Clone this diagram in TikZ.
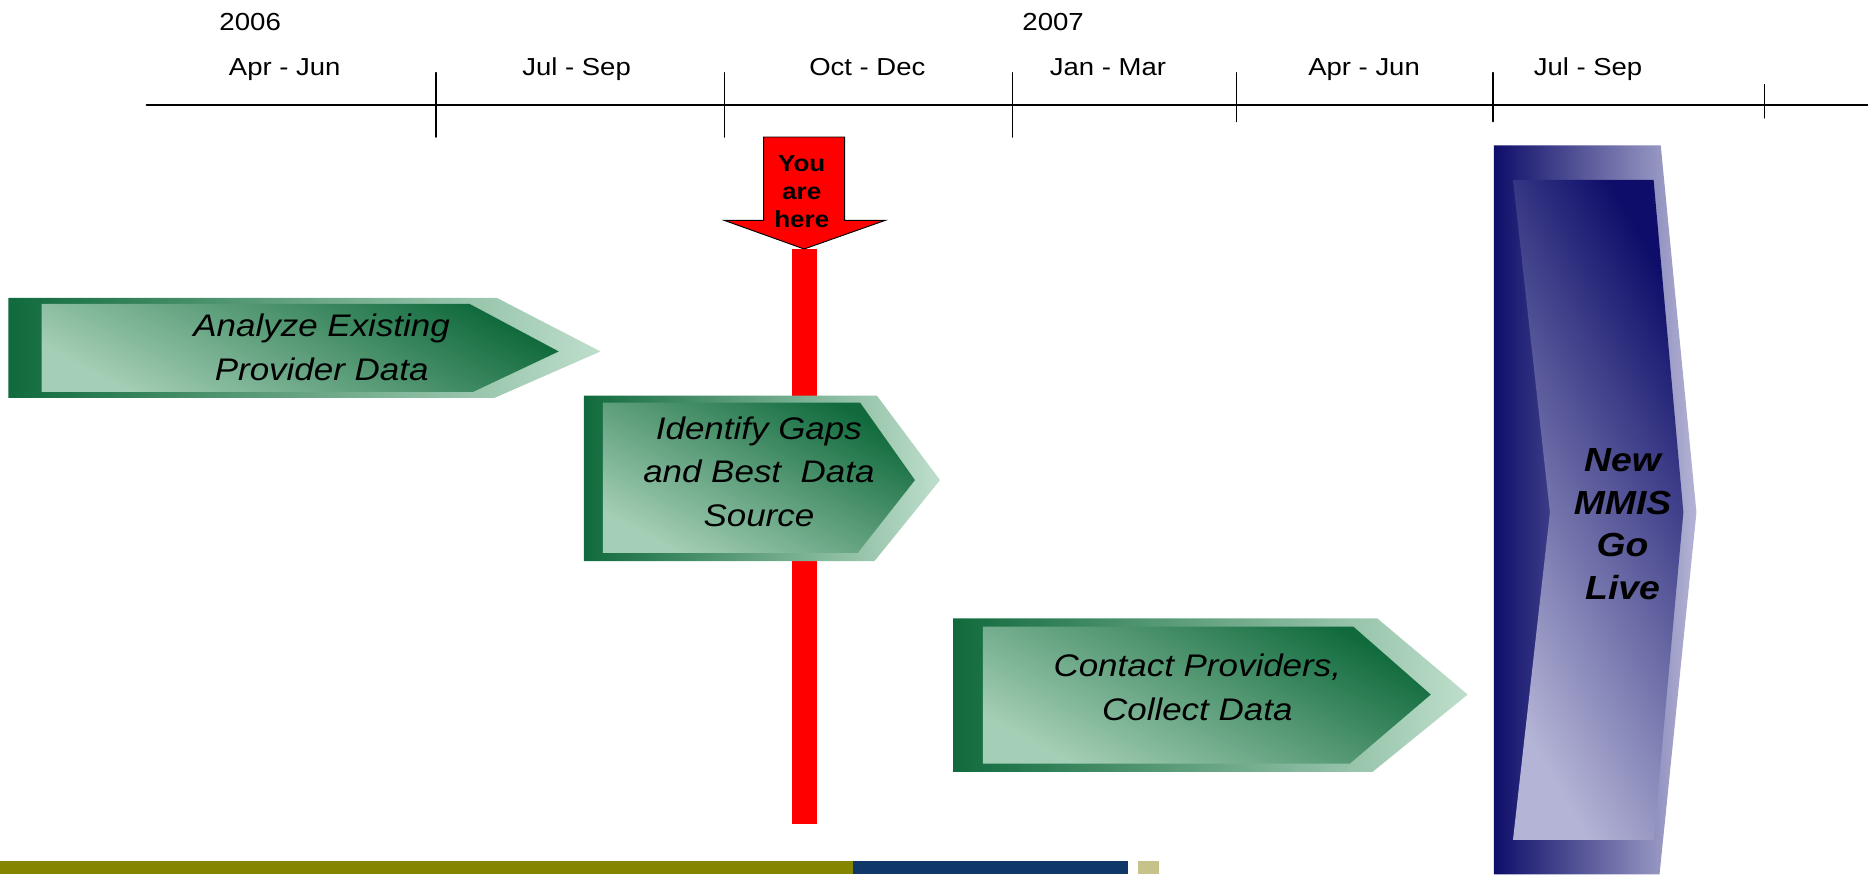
\documentclass[tikz,border=0pt]{standalone}
\usepackage{fontspec}
\setmainfont{Liberation Sans}[FakeStretch=1.12]
\usepackage{tkz-euclide}

\definecolor{vertfonce}{RGB}{16,106,60}
\definecolor{vertmoyen}{RGB}{74,148,112}
\definecolor{vertclair}{RGB}{164,206,181}
\definecolor{vertpale}{RGB}{190,222,203}
\definecolor{bleufonce}{RGB}{14,14,106}
\definecolor{bleumoyen}{RGB}{92,92,162}
\definecolor{bleuclair}{RGB}{180,180,214}
\definecolor{bleupale}{RGB}{180,180,214}
\definecolor{olive}{RGB}{133,133,0}
\definecolor{marine}{RGB}{15,56,104}
\definecolor{kaki}{RGB}{198,194,138}

\begin{document}
\begin{tikzpicture}[x=1pt,y=-1pt,
    ext vert/.style={left color=vertfonce, middle color=vertmoyen, right color=vertpale},
    int vert/.style={top color=vertfonce, middle color=vertmoyen, bottom color=vertclair, shading angle=-28},
    ext bleu/.style={left color=bleufonce, middle color=bleumoyen, right color=bleupale},
    int bleu/.style={top color=bleufonce, middle color=bleumoyen, bottom color=bleuclair, shading angle=-60},
    annee/.style={font=\fontsize{20.7}{24}\selectfont, anchor=base},
    trimestre/.style={font=\fontsize{20.6}{23}\selectfont, anchor=base},
    etape/.style={font=\fontsize{26.2}{36.5}\selectfont\itshape, align=center},
    jalon/.style={font=\fontsize{28}{36}\selectfont\bfseries\itshape, align=center},
    ici/.style={font=\fontsize{19.5}{23.5}\selectfont\bfseries, align=center}]
    \useasboundingbox (0,0) rectangle (1568,734);
    % définition des points
    \tkzDefPoints{123/88/O, 1568/88/Z, 366/61/T1, 366/115/U1, 608/61/T2, 608/115/U2,
      850/61/T3, 850/115/U3, 1038/61/T4, 1038/102/U4, 1253/61/T5, 1253/102/U5,
      1481/71/T6, 1481/99/U6}
    \tkzDefPoints{641/115/R1, 709/115/R2, 709/185/R3, 743/185/R4, 675/209/R5,
      608/185/R6, 641/185/R7, 665/209/P, 686/692/Q}
    \tkzDefPoints{7/250/A1, 417/250/A2, 504/295/A3, 415/334/A4, 7/334/A5,
      35/255/a1, 394/255/a2, 469/295/a3, 397/329/a4, 35/329/a5}
    \tkzDefPoints{490/332/B1, 736/332/B2, 789/403/B3, 734/471/B4, 490/471/B5,
      506/338/b1, 722/338/b2, 768/403/b3, 720/464/b4, 506/464/b5}
    \tkzDefPoints{800/519/C1, 1156/519/C2, 1232/583/C3, 1152/648/C4, 800/648/C5,
      825/526/c1, 1136/526/c2, 1201/583/c3, 1133/641/c4, 825/641/c5}
    \tkzDefPoints{1254/122/D1, 1394/122/D2, 1424/430/D3, 1393/734/D4, 1254/734/D5,
      1270/151/d1, 1388/151/d2, 1413/430/d3, 1388/705/d4, 1270/705/d5, 1301/430/d6}
    % frise
    \tkzDrawSegments[line width=1.6pt](O,Z)
    \tkzDrawSegments[line width=1.3pt](T1,U1 T2,U2 T3,U3 T4,U4 T5,U5 T6,U6)
    % étapes
    \shade[ext vert] (A1) -- (A2) -- (A3) -- (A4) -- (A5) -- cycle;
    \shade[int vert] (a1) -- (a2) -- (a3) -- (a4) -- (a5) -- cycle;
    \fill[red] (P) rectangle (Q);
    \shade[ext vert] (B1) -- (B2) -- (B3) -- (B4) -- (B5) -- cycle;
    \shade[int vert] (b1) -- (b2) -- (b3) -- (b4) -- (b5) -- cycle;
    \filldraw[fill=red, draw=black, line width=0.8pt]
      (R1) -- (R2) -- (R3) -- (R4) -- (R5) -- (R6) -- (R7) -- cycle;
    \shade[ext vert] (C1) -- (C2) -- (C3) -- (C4) -- (C5) -- cycle;
    \shade[int vert] (c1) -- (c2) -- (c3) -- (c4) -- (c5) -- cycle;
    \shade[ext bleu] (D1) -- (D2) -- (D3) -- (D4) -- (D5) -- cycle;
    \shade[int bleu] (d1) -- (d2) -- (d3) -- (d4) -- (d5) -- (d6) -- cycle;
    % bandeau
    \fill[olive] (0,723) rectangle (716,734);
    \fill[marine] (716,723) rectangle (947,734);
    \fill[kaki] (955,723) rectangle (973,734);
    % textes
    \node[annee] (a6) at (210,26) {2006};
    \node[annee] (a7) at (884,26) {2007};
    \node[trimestre] (q1) at (239,63) {Apr - Jun};
    \node[trimestre] (q2) at (484,63) {Jul - Sep};
    \node[trimestre] (q3) at (728,63) {Oct - Dec};
    \node[trimestre] (q4) at (930,63) {Jan - Mar};
    \node[trimestre] (q5) at (1145,63) {Apr - Jun};
    \node[trimestre] (q6) at (1333,63) {Jul - Sep};
    \node[ici] (ici) at (673,160.5) {You\\are\\here};
    \node[etape] (e1) at (270,291.5) {Analyze Existing\\Provider Data};
    \node[etape] (e2) at (637,396) {Identify Gaps\\and Best~ Data\\Source};
    \node[etape] (e3) at (1005,577) {Contact Providers,\\Collect Data};
    \node[jalon] (go) at (1362,440) {New\\MMIS\\Go\\Live};
  \end{tikzpicture}
\end{document}
